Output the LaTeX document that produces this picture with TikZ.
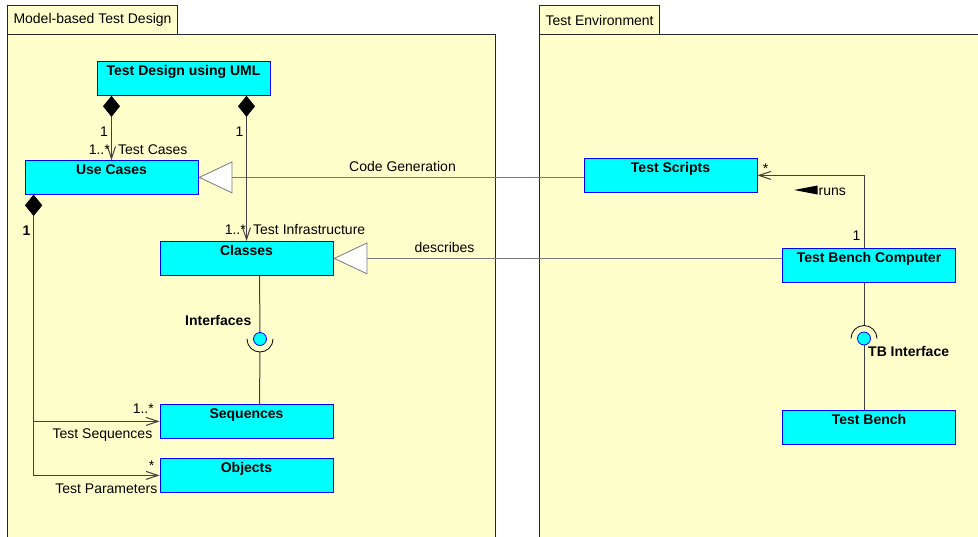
\documentclass[tikz,border=0pt]{standalone}
\usepackage{fontspec}
\setmainfont{Liberation Sans}
\usetikzlibrary{arrows.meta}
\definecolor{pkgyellow}{RGB}{255,255,204}
\definecolor{umlcyan}{RGB}{0,255,255}
\definecolor{umlblue}{RGB}{0,0,255}
\definecolor{wiregrey}{RGB}{64,64,64}
\definecolor{gengrey}{RGB}{120,120,120}

\begin{document}
\begin{tikzpicture}[x=1pt, y=-1pt, font=\fontsize{14}{16}\selectfont,
  pkg/.style={draw=black!85, line width=1pt, fill=pkgyellow},
  pkgtab/.style={pkg, anchor=north west, minimum height=29pt, inner xsep=6pt, inner ysep=0pt},
  umlclass/.style={rectangle, draw=umlblue, fill=umlcyan, line width=0.8pt, minimum width=173pt,
    inner sep=0pt, text height=14pt, text depth=20pt, anchor=north, font=\fontsize{14}{16}\selectfont\bfseries},
  lbl/.style={inner sep=0pt, anchor=base},
  wire/.style={draw=wiregrey, line width=1pt},
  comp/.style={wire, {Diamond[length=21pt,width=17pt,fill=black,color=black]}-{Straight Barb[length=12pt,width=8pt]}},
  assoc/.style={wire, -{Straight Barb[length=12pt,width=8pt]}},
  gen/.style={draw=gengrey, line width=0.8pt, -{Triangle[length=34pt,width=32pt,fill=white,color=gengrey]}},
  ball/.style={circle, draw=umlblue, fill=umlcyan, line width=0.8pt, minimum size=13pt, inner sep=0pt},
  socket/.style={draw=black, line width=0.8pt}]
\clip (0,0) rectangle (978,536);
\fill[white] (0,0) rectangle (978,536);

% packages
\draw[pkg] (7,34) rectangle (495,560);
\node[pkgtab] (mtdtab) at (7,5) {Model-based Test Design};
\draw[pkg] (539,34) rectangle (1000,560);
\node[pkgtab] (envtab) at (539,5) {Test Environment};

% classes
\node[umlclass] (tdu) at (183.5,61) {Test Design using UML};
\node[umlclass] (usecases) at (111.5,160) {Use Cases};
\node[umlclass] (classes) at (246.5,241) {Classes};
\node[umlclass] (seqs) at (246.5,404) {Sequences};
\node[umlclass] (objs) at (246.5,458) {Objects};
\node[umlclass] (scripts) at (670.5,158) {Test Scripts};
\node[umlclass] (tbpc) at (869,248) {Test Bench Computer};
\node[umlclass] (bench) at (869,410) {Test Bench};

% generalizations
\draw[gen] (scripts.west |- usecases.east) -- (usecases.east);
\draw[gen] (tbpc.west |- classes.east) -- (classes.east);
\node[lbl] (codegen) at (402.5,171.5) {Code Generation};
\node[lbl] (describes) at (444.5,252) {describes};

% compositions
\draw[comp] (usecases.north |- tdu.south) -- (usecases.north);
\draw[comp] (classes.north |- tdu.south) -- (classes.north);
\draw[comp] ([xshift=9pt]usecases.south west) |- (seqs.west);
\draw[comp] ([xshift=9pt]usecases.south west) |- (objs.west);
\node[lbl] (m1) at (104,136) {1};
\node[lbl, anchor=base east] (m2) at (110,154) {1..*};
\node[lbl, anchor=base west] (tcases) at (118,154) {Test Cases};
\node[lbl] (m3) at (239.5,136) {1};
\node[lbl, anchor=base east] (m4) at (246,234) {1..*};
\node[lbl, anchor=base west] (tinfra) at (253,234) {Test Infrastructure};
\node[lbl, font=\fontsize{14}{16}\selectfont\bfseries] (m5) at (26.5,235) {1};
\node[lbl, anchor=base east] (m6) at (154,413) {1..*};
\node[lbl, anchor=base east] (tseqs) at (152.5,438) {Test Sequences};
\node[lbl] (m7) at (151.5,470) {*};
\node[lbl, anchor=base east] (tparams) at (157.5,493) {Test Parameters};

% runs
\draw[assoc] ([xshift=-5pt]tbpc.north) |- (scripts.east);
\node[lbl] (m8) at (765.5,173) {*};
\node[lbl] (m9) at (856.5,240) {1};
\node[lbl, anchor=base west] (runs) at (818.5,195) {runs};
\fill[black] (794,190) -- (817.5,185.5) -- (817.5,194.5) -- cycle;

% interfaces
\node[ball] (ifball) at (260,339) {};
\coordinate (ifsock) at (260,352);
\draw[wire] ([xshift=13pt]classes.south) -- (ifball.north);
\draw[socket] (247,339) arc[start angle=180, end angle=360, radius=13pt];
\draw[wire] (ifsock) -- ([xshift=13pt]seqs.north);
\node[lbl, anchor=base east, font=\fontsize{14}{16}\selectfont\bfseries] (iflbl) at (251.5,325) {Interfaces};

\node[ball] (tbball) at (864,338.5) {};
\coordinate (tbsock) at (864,325.5);
\draw[wire] ([xshift=-5pt]tbpc.south) -- (tbsock);
\draw[socket] (851,338.5) arc[start angle=180, end angle=0, radius=13pt];
\draw[wire] (tbball.south) -- ([xshift=-5pt]bench.north);
\node[lbl, anchor=base west, font=\fontsize{14}{16}\selectfont\bfseries] (tblbl) at (868,356.5) {TB Interface};
\end{tikzpicture}
\end{document}
